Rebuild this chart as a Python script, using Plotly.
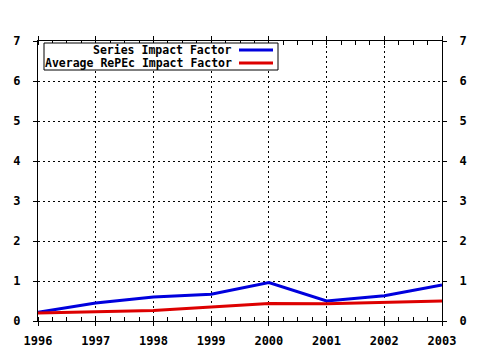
import plotly.graph_objects as go

# Yearly impact factors
years = [1996, 1997, 1998, 1999, 2000, 2001, 2002, 2003]
series_if = [0.22, 0.45, 0.60, 0.67, 0.96, 0.50, 0.63, 0.90]
repec_avg_if = [0.20, 0.23, 0.26, 0.35, 0.44, 0.43, 0.46, 0.50]
series_names = ["Series Impact Factor", "Average RePEc Impact Factor"]
series_colors = ["#0000dd", "#dd0000"]
y_ticks = [0, 1, 2, 3, 4, 5, 6, 7]

FONT = "DejaVu Sans Mono"

fig = go.Figure()
for name, vals, col in zip(series_names, [series_if, repec_avg_if], series_colors):
    fig.add_trace(go.Scatter(x=years, y=vals, mode="lines", name=name,
                             line=dict(color=col, width=3), showlegend=False))
# invisible trace to carry the right-hand axis labels
fig.add_trace(go.Scatter(x=years, y=series_if, yaxis="y2", mode="lines",
                         line=dict(width=0), opacity=0, showlegend=False,
                         hoverinfo="skip"))

axis_common = dict(showline=True, linecolor="black", linewidth=1,
                   ticks="outside", ticklen=4, tickcolor="black", automargin=False,
                   tickfont=dict(family=FONT, size=12, color="black", weight="bold"),
                   zeroline=False)

fig.update_layout(
    width=480, height=350,
    margin=dict(l=38, r=38, t=41, b=29),
    paper_bgcolor="white", plot_bgcolor="white",
    xaxis=dict(range=[years[0], years[-1]], tickvals=years, mirror="allticks",
               showgrid=True, gridcolor="black", gridwidth=1, griddash="2px,3px",
               minor=dict(ticks="inside", dtick=0.25, ticklen=3, tickcolor="black",
                          showgrid=False),
               ticklabelstandoff=5, **axis_common),
    yaxis=dict(range=[0, 7], tickvals=y_ticks, mirror="allticks",
               showgrid=True, gridcolor="black", gridwidth=1, griddash="2px,3px",
               ticklabelstandoff=10, **axis_common),
    yaxis2=dict(range=[0, 7], tickvals=y_ticks, overlaying="y", side="right",
                showgrid=False, ticklabelstandoff=10, **axis_common),
)

# Legend box drawn by hand: right-aligned labels with line swatches on the right
def px_x(p):
    return (p - 38) / 404.0

def px_y(p):
    return (321 - p) / 280.0

fig.add_shape(type="rect", xref="paper", yref="paper",
              x0=px_x(44), x1=px_x(278), y0=px_y(70), y1=px_y(43),
              line=dict(color="black", width=1), fillcolor="white", layer="above")
for i, (name, col) in enumerate(zip(series_names, series_colors)):
    yc = 50 + 13 * i
    fig.add_annotation(xref="paper", yref="paper", x=px_x(234), y=px_y(yc),
                       xanchor="right", yanchor="middle", showarrow=False,
                       text=name, font=dict(family=FONT, size=11.5, color="black",
                                            weight="bold"))
    fig.add_shape(type="line", xref="paper", yref="paper",
                  x0=px_x(239), x1=px_x(273), y0=px_y(yc), y1=px_y(yc),
                  line=dict(color=col, width=3), layer="above")

fig.write_html("out.html")
